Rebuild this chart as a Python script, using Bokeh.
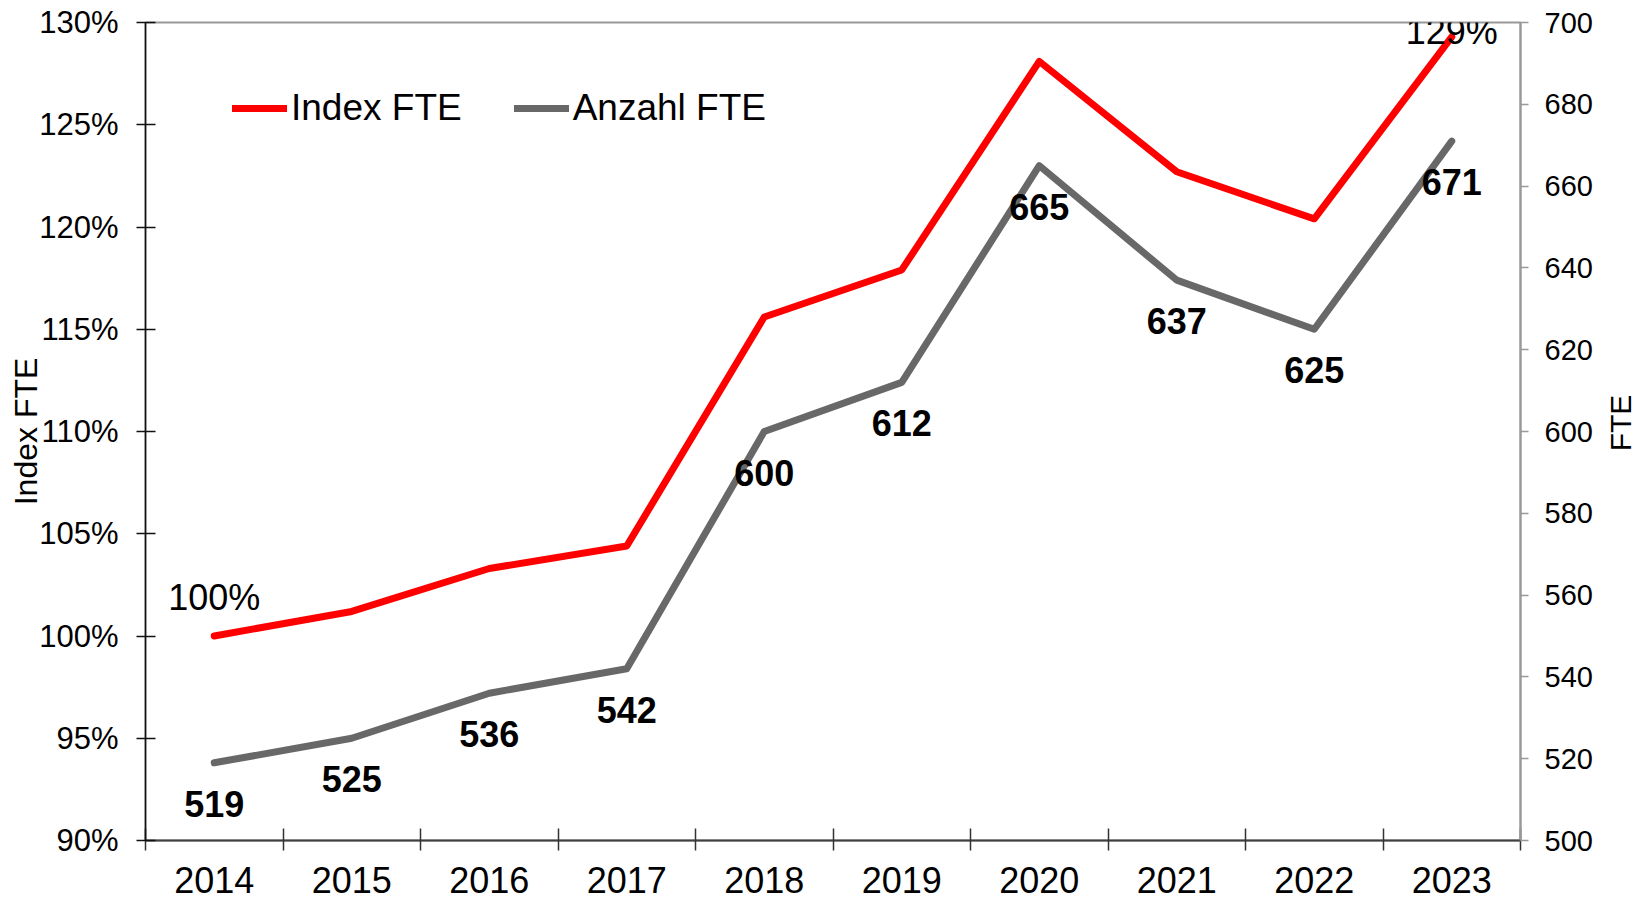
from bokeh.plotting import figure
from bokeh.layouts import row
from bokeh.models import (Range1d, LinearAxis, FixedTicker, PrintfTickFormatter,
                          ColumnDataSource, LabelSet, Label, Legend, LegendItem)
from bokeh.core.properties import value
from bokeh.embed import file_html
from bokeh.resources import INLINE

# ---- data ----
years = ["2014", "2015", "2016", "2017", "2018", "2019", "2020", "2021", "2022", "2023"]
fte = [519, 525, 536, 542, 600, 612, 665, 637, 625, 671]
index_fte = [100.0, 101.2, 103.3, 104.4, 115.6, 117.9, 128.1, 122.7, 120.4, 129.3]
left_ticks = [90, 95, 100, 105, 110, 115, 120, 125, 130]
right_ticks = [500, 520, 540, 560, 580, 600, 620, 640, 660, 680, 700]

FONT = "Liberation Sans"
RED = "#ff0000"
GRAY = "#686868"

x = list(range(len(years)))

W, H = 1600, 901
p = figure(width=W, height=H, output_backend="svg", toolbar_location=None,
           x_range=Range1d(-0.5, len(years) - 0.5),
           y_range=Range1d(left_ticks[0], left_ticks[-1]),
           min_border_left=145, min_border_right=80, min_border_top=22, min_border_bottom=61,
           background_fill_color="white", border_fill_color="white")
p.extra_y_ranges = {"fte": Range1d(right_ticks[0], right_ticks[-1])}
p.xgrid.visible = False
p.ygrid.visible = False
p.outline_line_color = "#999999"
p.outline_line_width = 2

# bottom axis
xa = p.xaxis[0]
xa.ticker = FixedTicker(ticks=x, minor_ticks=[i - 0.5 for i in range(len(years) + 1)])
xa.major_label_overrides = {i: y for i, y in zip(x, years)}
xa.major_tick_in = 0
xa.major_tick_out = 0
xa.minor_tick_in = 12
xa.minor_tick_out = 10
xa.minor_tick_line_color = "#333333"
xa.minor_tick_line_width = 1.5
xa.axis_line_color = "#404040"
xa.axis_line_width = 2
xa.major_label_text_font = FONT
xa.major_label_text_font_size = "36px"
xa.major_label_text_color = "black"
xa.major_label_standoff = 16

# left axis
ya = p.yaxis[0]
ya.ticker = FixedTicker(ticks=left_ticks)
ya.formatter = PrintfTickFormatter(format="%d%%")
ya.major_tick_in = 10
ya.major_tick_out = 9
ya.minor_tick_line_color = None
ya.axis_line_color = "#111111"
ya.axis_line_width = 1.5
ya.major_tick_line_color = "#111111"
ya.major_tick_line_width = 1.5
ya.major_label_text_font = FONT
ya.major_label_text_font_size = "31px"
ya.major_label_text_color = "black"
ya.major_label_standoff = 18
ya.axis_label = "Index FTE"
ya.axis_label_text_font = FONT
ya.axis_label_text_font_size = "32px"
ya.axis_label_text_font_style = "normal"
ya.axis_label_text_color = "black"
ya.axis_label_standoff = -8

# right axis
ra = LinearAxis(y_range_name="fte", ticker=FixedTicker(ticks=right_ticks))
ra.major_tick_in = 0
ra.major_tick_out = 8
ra.minor_tick_line_color = None
ra.axis_line_color = "#999999"
ra.axis_line_width = 2
ra.major_tick_line_color = "#999999"
ra.major_tick_line_width = 1.5
ra.major_label_text_font = FONT
ra.major_label_text_font_size = "29px"
ra.major_label_text_color = "black"
ra.major_label_standoff = 16
p.add_layout(ra, "right")

# lines
src = ColumnDataSource(dict(x=x, year=years, fte=fte, idx=index_fte,
                            fte_txt=[str(v) for v in fte]))
r_gray = p.line("x", "fte", source=src, y_range_name="fte", line_color=GRAY,
                line_width=7, line_cap="round", line_join="round")
r_red = p.line("x", "idx", source=src, line_color=RED,
               line_width=7, line_cap="round", line_join="round")

# data labels
lbl = LabelSet(x="x", y="fte", text="fte_txt", source=src, y_range_name="fte",
               y_offset=-41, text_align="center", text_baseline="middle",
               text_font=value(FONT), text_font_size=value("36px"),
               text_font_style="bold", text_color="black")
p.add_layout(lbl)

p.add_layout(Label(x=x[0], y=index_fte[0], text=f"{index_fte[0]:.0f}%", y_offset=39,
                   text_align="center", text_baseline="middle", text_font=FONT,
                   text_font_size="36px", text_color="black"))
p.add_layout(Label(x=x[-1], y=index_fte[-1], text=f"{index_fte[-1]:.0f}%", y_offset=5,
                   text_align="center", text_baseline="middle", text_font=FONT,
                   text_font_size="36px", text_color="black"))

# legend
legend = Legend(items=[LegendItem(label="Index FTE", renderers=[r_red]),
                       LegendItem(label="Anzahl FTE", renderers=[r_gray])],
                orientation="horizontal", location=(87, 711),
                border_line_color=None, background_fill_alpha=0,
                label_text_font=FONT, label_text_font_size="37px",
                label_text_color="black",
                glyph_width=55, glyph_height=42, label_height=42,
                label_standoff=4, spacing=52, padding=0, margin=0)
p.add_layout(legend)

# narrow side figure carrying the right-hand axis title, reading bottom to top
p2 = figure(width=1642 - W, height=H - 17, output_backend="svg", toolbar_location=None,
            x_range=Range1d(0, 1), y_range=Range1d(0, 1), x_axis_location=None,
            min_border_left=32, min_border_right=0, min_border_top=22, min_border_bottom=61,
            background_fill_color="white", border_fill_color="white")
p2.outline_line_color = None
p2.xgrid.visible = False
p2.ygrid.visible = False
a2 = p2.yaxis[0]
a2.ticker = FixedTicker(ticks=[])
a2.major_tick_in = 0
a2.major_tick_out = 0
a2.minor_tick_in = 0
a2.minor_tick_out = 0
a2.axis_line_color = None
a2.major_label_standoff = 0
a2.axis_label = "FTE"
a2.axis_label_standoff = 0
a2.axis_label_text_font = FONT
a2.axis_label_text_font_size = "30px"
a2.axis_label_text_font_style = "normal"
a2.axis_label_text_color = "black"

layout = row(p, p2)
open("out.html", "w").write(file_html(layout, INLINE))
